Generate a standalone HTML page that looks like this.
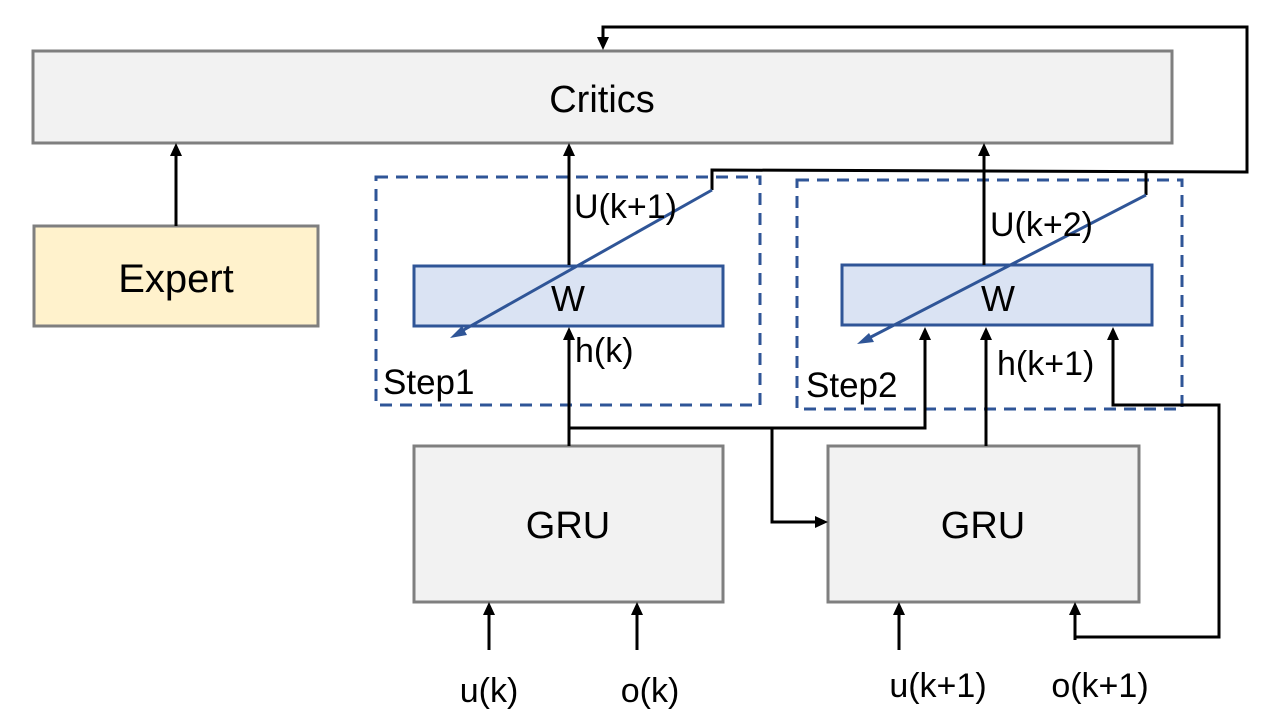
<!DOCTYPE html>
<html><head><style>
body{margin:0;background:#fff}
text{font-family:"Liberation Sans",sans-serif;fill:#000}
</style></head><body>
<svg width="1280" height="720" viewBox="0 0 1280 720" xmlns="http://www.w3.org/2000/svg">
<rect x="33" y="51" width="1139" height="92" fill="#f2f2f2" stroke="#7f7f7f" stroke-width="3"/>
<text x="602" y="112" font-size="38" text-anchor="middle">Critics</text>
<rect x="34" y="226" width="284" height="100" fill="#fff2cc" stroke="#7f7f7f" stroke-width="3"/>
<text x="176" y="292" font-size="40" text-anchor="middle">Expert</text>
<rect x="376" y="177" width="384" height="228" fill="none" stroke="#2f5597" stroke-width="3" stroke-dasharray="12,8"/>
<rect x="797" y="180" width="385" height="229" fill="none" stroke="#2f5597" stroke-width="3" stroke-dasharray="12,8"/>
<rect x="414" y="266" width="309" height="60" fill="#dae3f3" stroke="#2f5597" stroke-width="3"/>
<rect x="842" y="265" width="310" height="60" fill="#dae3f3" stroke="#2f5597" stroke-width="3"/>
<text x="568" y="311" font-size="36" text-anchor="middle">W</text>
<text x="998" y="311" font-size="36" text-anchor="middle">W</text>
<rect x="414" y="446" width="309" height="156" fill="#f2f2f2" stroke="#7f7f7f" stroke-width="3"/>
<rect x="828" y="446" width="311" height="156" fill="#f2f2f2" stroke="#7f7f7f" stroke-width="3"/>
<text x="568" y="538" font-size="38" text-anchor="middle">GRU</text>
<text x="983" y="538" font-size="38" text-anchor="middle">GRU</text>
<g stroke="#000" stroke-width="3" fill="none">
<line x1="176" y1="226" x2="176" y2="155"/>
<line x1="569" y1="265" x2="569" y2="155"/>
<line x1="984" y1="265" x2="984" y2="155"/>
<line x1="569" y1="446" x2="569" y2="338"/>
<line x1="986" y1="446" x2="986" y2="338"/>
<polyline points="569,428 925,428 925,340"/>
<polyline points="772,428 772,522 816,522"/>
<polyline points="1075,637 1219,637 1219,405 1113,405 1113,340"/>
<line x1="489" y1="650" x2="489" y2="614"/>
<line x1="637" y1="650" x2="637" y2="614"/>
<line x1="899" y1="650" x2="899" y2="614"/>
<line x1="1075" y1="640" x2="1075" y2="614"/>
<polyline points="712,190 712,170 1247,172 1247,27 603,27 603,38"/>
<line x1="1146" y1="172" x2="1146" y2="195"/>
</g>
<g fill="#000">
<polygon points="176,143 170,156 182,156"/>
<polygon points="569,143 563,156 575,156"/>
<polygon points="984,143 978,156 990,156"/>
<polygon points="569,327 563,340 575,340"/>
<polygon points="986,327 980,340 992,340"/>
<polygon points="925,327 919,340 931,340"/>
<polygon points="1113,327 1107,340 1119,340"/>
<polygon points="489,602 483,615 495,615"/>
<polygon points="637,602 631,615 643,615"/>
<polygon points="899,602 893,615 905,615"/>
<polygon points="1075,602 1069,615 1081,615"/>
<polygon points="828,522 815,516 815,528"/>
<polygon points="603,50 597,37 609,37"/>
</g>
<g stroke="#2f5597" stroke-width="3">
<line x1="712" y1="190" x2="460" y2="332"/>
<line x1="1146" y1="195" x2="867" y2="339"/>
</g>
<g fill="#2f5597">
<polygon points="450,338 462,326 467,335"/>
<polygon points="857,344 869,333 874,342"/>
</g>
<g font-size="34">
<text x="574" y="218">U(k+1)</text>
<text x="990" y="236">U(k+2)</text>
<text x="575" y="362">h(k)</text>
<text x="997" y="375">h(k+1)</text>
<text x="383" y="394" font-size="35">Step1</text>
<text x="806" y="397" font-size="35">Step2</text>
<text x="489" y="702" text-anchor="middle">u(k)</text>
<text x="650" y="702" text-anchor="middle">o(k)</text>
<text x="938" y="697" text-anchor="middle">u(k+1)</text>
<text x="1100" y="697" text-anchor="middle">o(k+1)</text>
</g>
</svg>
</body></html>
